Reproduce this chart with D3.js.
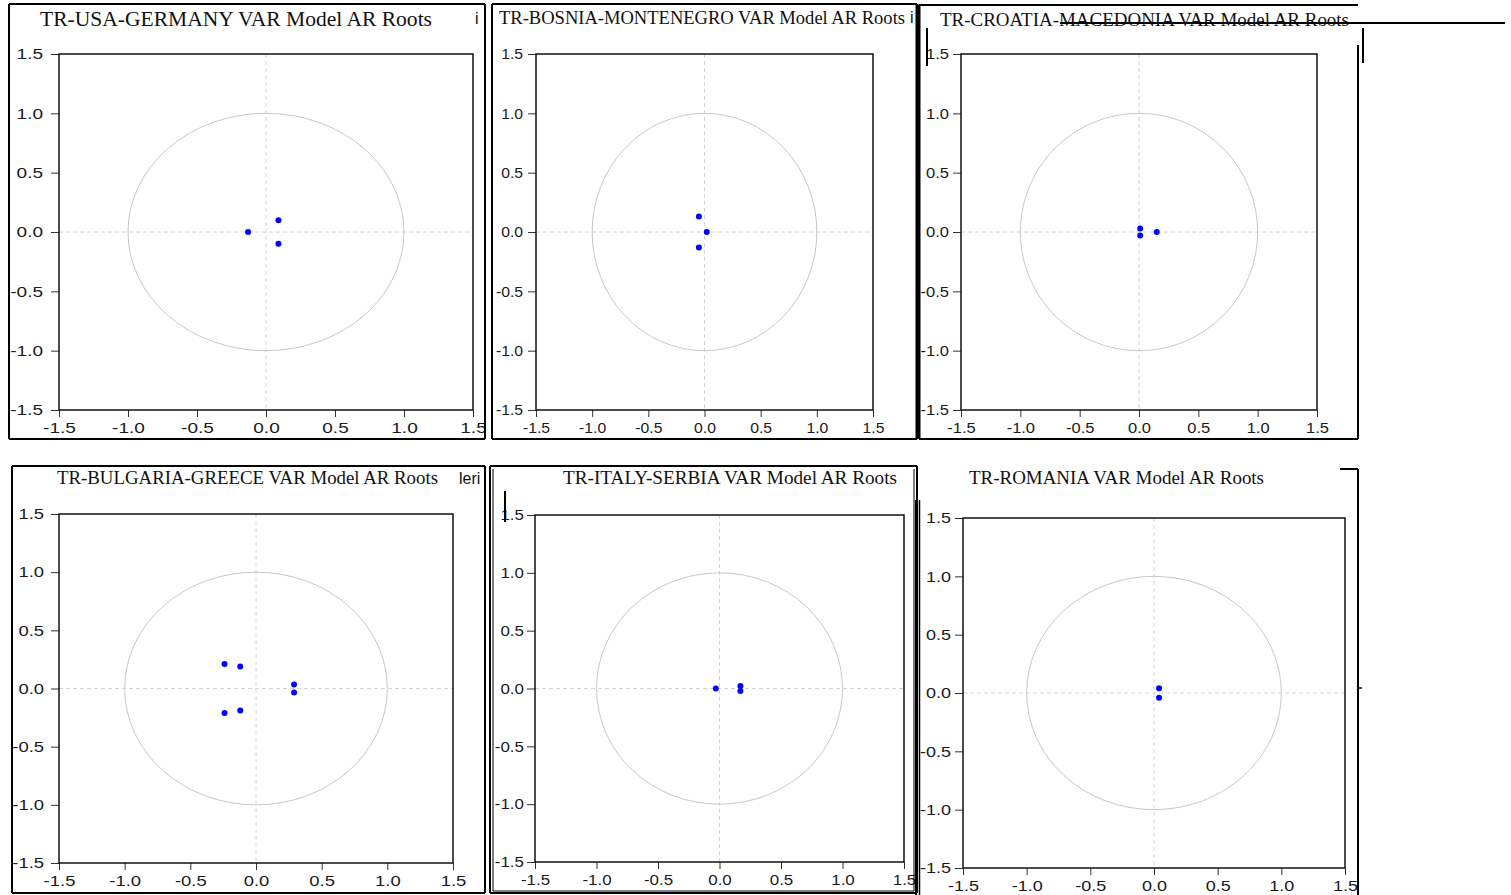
<!DOCTYPE html>
<meta charset="utf-8">
<script src="https://d3js.org/d3.v7.min.js"></script>
<style>
    body { margin: 0; background: #fff; }
    svg { display: block; }
</style>
<div id="chart"></div>
<script>
    // Titles of the six panels
    var titles = [
        "TR-USA-GERMANY VAR Model AR Roots",
        "TR-BOSNIA-MONTENEGRO VAR Model AR Roots",
        "TR-CROATIA-MACEDONIA VAR Model AR Roots",
        "TR-BULGARIA-GREECE VAR Model AR Roots",
        "TR-ITALY-SERBIA VAR Model AR Roots",
        "TR-ROMANIA VAR Model AR Roots"
    ];

    var rootsUsaGermany = [[-0.13, 0], [0.09, 0.10], [0.09, -0.10]];
    var rootsBosniaMontenegro = [[-0.05, 0.13], [0.02, 0], [-0.05, -0.13]];
    var rootsCroatiaMacedonia = [[0.01, 0.03], [0.01, -0.03], [0.15, 0]];
    var rootsBulgariaGreece = [[-0.24, 0.21], [-0.24, -0.21], [-0.12, 0.19], [-0.12, -0.19], [0.29, 0.034], [0.29, -0.034]];
    var rootsItalySerbia = [[-0.03, 0], [0.17, 0.022], [0.17, -0.022]];
    var rootsRomania = [[0.04, 0.04], [0.04, -0.04]];

    var axisTicks = [-1.5, -1.0, -0.5, 0.0, 0.5, 1.0, 1.5];
    var axisDomain = [-1.5, 1.5];
    var circleRadius = 1;

    // where each panel sits on the page
    var panels = [
        { roots: rootsUsaGermany, title: titles[0], x0: 59, x1: 473, y0: 54, y1: 410, tx: 40, tw: 392, ty: 26, fs: 21, sx: 1.27, gap: 16 },
        { roots: rootsBosniaMontenegro, title: titles[1], x0: 536, x1: 873, y0: 54, y1: 410, tx: 499, tw: 406, ty: 24, fs: 18, sx: 1.05, gap: 13 },
        { roots: rootsCroatiaMacedonia, title: titles[2], x0: 961, x1: 1317, y0: 54, y1: 410, tx: 940, tw: 409, ty: 26, fs: 19, sx: 1.1, gap: 12 },
        { roots: rootsBulgariaGreece, title: titles[3], x0: 59, x1: 453, y0: 514, y1: 863, tx: 57, tw: 381, ty: 484, fs: 19, sx: 1.23, gap: 15 },
        { roots: rootsItalySerbia, title: titles[4], x0: 535, x1: 904, y0: 515, y1: 862, tx: 563, tw: 334, ty: 484, fs: 19, sx: 1.13, gap: 11 },
        { roots: rootsRomania, title: titles[5], x0: 963, x1: 1345, y0: 518, y1: 868, tx: 969, tw: 295, ty: 484, fs: 19, sx: 1.2, gap: 12 }
    ];

    // frame lines of the pasted panels (some are cut off in the original)
    var frameLines = [
        [9, 4, 485, 4, 2], [9, 4, 9, 439, 2], [485, 4, 485, 439, 2], [9, 439, 485, 439, 2],
        [492, 4, 917, 4, 2], [492, 4, 492, 439, 2], [492, 439, 917, 439, 2], [917, 4, 917, 439, 3],
        [919, 5, 1358, 5, 2], [919, 5, 919, 439, 3], [1358, 45, 1358, 439, 2], [919, 439, 1358, 439, 2],
        [12, 466, 485, 466, 2], [12, 466, 12, 893, 2], [485, 466, 485, 893, 2], [12, 893, 485, 893, 2],
        [490, 466, 917, 466, 2], [490, 466, 490, 893, 2], [917, 466, 917, 893, 2], [490, 893, 917, 893, 2],
        [493, 469, 493, 891, 1], [914, 469, 914, 891, 1], [493, 891, 914, 891, 1],
        [916, 500, 916, 895, 2], [919.5, 500, 919.5, 895, 1.5], [1340, 469, 1358, 469, 2], [1358, 469, 1358, 895, 2],
        [1060, 23, 1505, 23, 2], [1363, 28, 1363, 63, 2], [927, 28, 927, 66, 2], [505, 491, 505, 522, 2],
        [1358, 688, 1362, 688, 1.5]
    ];
    var strayTexts = [
        { text: "i", x: 475, y: 24 },
        { text: "i", x: 910, y: 23 },
        { text: "leri", x: 459, y: 484 }
    ];

    var tickFormat = function (d) { return d.toFixed(1); };

    var svg = d3.select("#chart")
        .append("svg")
        .attr("width", 1511)
        .attr("height", 895);

    panels.forEach(function (p) {
        var x = d3.scaleLinear().domain(axisDomain).range([p.x0, p.x1]);
        var y = d3.scaleLinear().domain(axisDomain).range([p.y1, p.y0]);
        var g = svg.append("g");

        // title
        g.append("text")
            .attr("x", p.tx)
            .attr("y", p.ty)
            .attr("font-family", "'Liberation Serif', 'Times New Roman', serif")
            .attr("font-size", p.fs)
            .attr("fill", "#111")
            .attr("textLength", p.tw)
            .attr("lengthAdjust", "spacingAndGlyphs")
            .text(p.title);

        // zero lines
        g.append("line")
            .attr("x1", x(0)).attr("x2", x(0))
            .attr("y1", y(axisDomain[1])).attr("y2", y(axisDomain[0]))
            .attr("stroke", "#d4d4d4").attr("stroke-dasharray", "4,3");
        g.append("line")
            .attr("x1", x(axisDomain[0])).attr("x2", x(axisDomain[1]))
            .attr("y1", y(0)).attr("y2", y(0))
            .attr("stroke", "#d4d4d4").attr("stroke-dasharray", "4,3");

        // unit circle
        g.append("ellipse")
            .attr("cx", x(0))
            .attr("cy", y(0))
            .attr("rx", x(circleRadius) - x(0))
            .attr("ry", y(0) - y(circleRadius))
            .attr("fill", "none")
            .attr("stroke", "#c8c8c8")
            .attr("stroke-width", 1);

        // axes
        var xAxis = g.append("g")
            .attr("transform", "translate(0," + p.y1 + ")")
            .call(d3.axisBottom(x).tickValues(axisTicks).tickFormat(tickFormat).tickSize(7).tickPadding(5));
        var yAxis = g.append("g")
            .attr("transform", "translate(" + p.x0 + ",0)")
            .call(d3.axisLeft(y).tickValues(axisTicks).tickFormat(tickFormat).tickSize(8).tickPadding(p.gap - 8));

        [xAxis, yAxis].forEach(function (a) {
            a.select(".domain").remove();
            a.selectAll(".tick line").attr("stroke", "#333");
            a.selectAll(".tick text")
                .attr("font-family", "'Liberation Sans', Arial, sans-serif")
                .attr("font-size", 15)
                .attr("fill", "#1a1a1a");
        });
        // the original labels look stretched sideways
        xAxis.selectAll(".tick text").attr("transform", "scale(" + p.sx + ",1)");
        yAxis.selectAll(".tick text")
            .attr("x", -p.gap / p.sx)
            .attr("transform", "scale(" + p.sx + ",1)");

        // plot frame
        g.append("rect")
            .attr("x", p.x0)
            .attr("y", p.y0)
            .attr("width", p.x1 - p.x0)
            .attr("height", p.y1 - p.y0)
            .attr("fill", "none")
            .attr("stroke", "#111")
            .attr("stroke-width", 1.5);

        // roots
        g.selectAll("circle.root")
            .data(p.roots)
            .enter()
            .append("circle")
            .attr("class", "root")
            .attr("cx", function (d) { return x(d[0]); })
            .attr("cy", function (d) { return y(d[1]); })
            .attr("r", 3)
            .attr("fill", "#0000ff");
    });

    svg.selectAll("line.frame")
        .data(frameLines)
        .enter()
        .append("line")
        .attr("class", "frame")
        .attr("x1", function (d) { return d[0]; })
        .attr("y1", function (d) { return d[1]; })
        .attr("x2", function (d) { return d[2]; })
        .attr("y2", function (d) { return d[3]; })
        .attr("stroke", "#000")
        .attr("stroke-width", function (d) { return d[4]; });

    svg.selectAll("text.stray")
        .data(strayTexts)
        .enter()
        .append("text")
        .attr("class", "stray")
        .attr("x", function (d) { return d.x; })
        .attr("y", function (d) { return d.y; })
        .attr("font-family", "'Liberation Sans', Arial, sans-serif")
        .attr("font-size", 16)
        .attr("fill", "#111")
        .text(function (d) { return d.text; });
</script>
